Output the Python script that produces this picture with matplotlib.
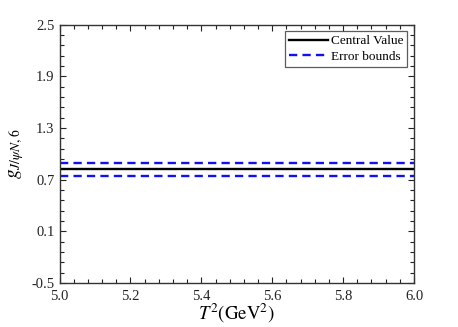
import numpy as np
import matplotlib
matplotlib.use("Agg")
import matplotlib.pyplot as plt
from matplotlib.ticker import FixedLocator, FormatStrFormatter

T2 = [5.0, 6.0]
central = [0.82, 0.82]
upper = [0.89, 0.89]
lower = [0.74, 0.74]
yticks = [-0.5, 0.1, 0.7, 1.3, 1.9, 2.5]
xticks = [5.0, 5.2, 5.4, 5.6, 5.8, 6.0]

plt.rcParams['font.family'] = ['Liberation Serif', 'DejaVu Serif']
plt.rcParams['mathtext.fontset'] = 'stix'

fig = plt.figure(figsize=(4.58, 3.27), dpi=100)
ax = fig.add_axes([0.130, 0.1346, 0.774, 0.79])

ax.plot(T2, central, color='black', lw=1.7, label='Central Value')
ax.plot(T2, upper, color='#1010f0', lw=1.7, ls=(0, (3.5, 2.2)), label='Error bounds')
ax.plot(T2, lower, color='#1010f0', lw=1.7, ls=(0, (3.5, 2.2)))

ax.set_xlim(5.0, 6.0)
ax.set_ylim(-0.5, 2.5)
ax.xaxis.set_major_locator(FixedLocator(xticks))
ax.xaxis.set_minor_locator(FixedLocator(np.linspace(5.0, 6.0, 26)))
ax.yaxis.set_major_locator(FixedLocator(yticks))
ax.yaxis.set_minor_locator(FixedLocator(np.linspace(-0.5, 2.5, 26)))
ax.xaxis.set_major_formatter(FormatStrFormatter('%.1f'))
ax.yaxis.set_major_formatter(FormatStrFormatter('%.1f'))
ax.tick_params(which='both', direction='in', top=True, right=True, labelsize=10.5, colors='#222222')
ax.tick_params(which='major', length=4, width=0.8)
ax.tick_params(which='minor', length=3, width=0.8)
ax.tick_params(axis='x', which='major', pad=5)
for s in ax.spines.values():
    s.set_linewidth(1.0)
    s.set_color('#333333')

ax.set_xlabel(r'$T^2(\mathrm{GeV}^2)$', fontsize=13.5, labelpad=-1)
ax.set_ylabel(r'$g_{J/\psi N,6}$', fontsize=14, labelpad=4)

leg = ax.legend(loc='upper right', fontsize=9.5, frameon=True, fancybox=False,
                edgecolor='#333333', handlelength=3.0, handletextpad=0.2,
                borderpad=0.3, labelspacing=0.25, borderaxespad=0.5)
leg.get_frame().set_linewidth(0.9)

fig.savefig('out.png', dpi=100)
